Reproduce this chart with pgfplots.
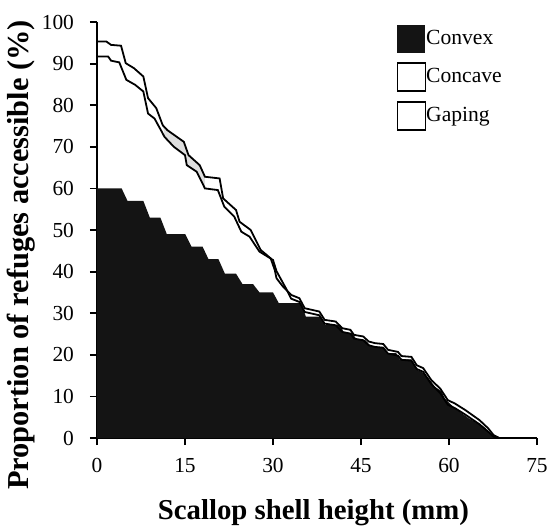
\documentclass[border=0pt]{standalone}
\usepackage{fontspec}
\setmainfont{Liberation Serif}
\usepackage{pgfplots}
\pgfplotsset{compat=1.18}
\usetikzlibrary{calc}

\begin{document}
\begin{tikzpicture}
\begin{axis}[
  name=ax,
  scale only axis,
  width=220pt, height=208pt,
  xmin=0, xmax=75, ymin=0, ymax=100,
  axis x line*=bottom, axis y line*=left,
  axis line style={line width=1pt, black},
  xtick={0,15,30,45,60,75},
  ytick={0,10,...,100},
  tick align=outside,
  major tick length=3.5pt,
  tick style={line width=0.9pt, black},
  tick label style={font=\fontsize{10.7}{12}\selectfont},
  xticklabel style={yshift=-3pt},
  yticklabel style={xshift=-4.5pt},
  /pgf/number format/assume math mode=true,
  xlabel={\textbf{Scallop shell height (mm)}},
  ylabel={\textbf{Proportion of refuges accessible (\%)}},
  xlabel style={font=\fontsize{14.4}{16}\selectfont,
    at={(axis description cs:0.492,-0.197)}, anchor=base},
  ylabel style={font=\fontsize{15.2}{17}\selectfont,
    at={(axis description cs:-0.172,0.44)}, anchor=center},
  legend style={draw=none, fill=none, inner sep=0pt,
    at={(axis description cs:0.68,0.993)}, anchor=north west,
    row sep=4.5pt, nodes={inner sep=0pt},
    font=\fontsize{10.8}{13}\selectfont},
  legend cell align=left,
  /tikz/every even column/.append style={column sep=2.5pt},
  clip=false,
]
% Convex: filled step curve
\addplot[fill=black!92, draw=none,
  legend image code/.code={\fill[black!92] (0pt,-7pt) rectangle (14pt,7pt);}]
  coordinates {
  (0,60) (4.2,60) (5.2,57) (7.9,57) (9.0,53) (10.8,53) (11.9,49) (15.05,49)
  (16.1,46) (18.0,46) (19.0,43) (20.7,43) (21.8,39.5) (23.7,39.5) (24.8,37)
  (26.6,37) (27.7,35) (30.0,35) (31.0,32.4) (34.8,32.4) (35.6,29.2) (38.1,29.2)
  (38.9,27.2) (41.5,27.2) (42.1,25.2) (43.5,25.2) (44.3,23.6) (45.7,23.6)
  (46.8,21.9) (48.8,21.9) (49.6,20.4) (51.0,20.4) (51.6,18.9) (53.6,18.9)
  (54.7,16.3) (55.8,15.5) (57.0,13.5) (57.6,12.3) (58.7,11.3) (59.3,9.5)
  (61.0,7.1) (63.4,4.7) (65.9,2.7) (67.4,0.5) (68.6,0)
  } \closedcycle;
\addlegendentry{Convex}
% shaded band between the two open-shell curves
\addplot[fill=black!13, draw=none, forget plot] coordinates {
  (11.3,74.8) (12.0,74.0) (14.8,71.2) (15.6,68.0) (17.5,65.6) (18.4,62.8)
  (18.4,60.0) (17.0,64.0) (15.3,65.6) (15.0,68.0) (13.1,70.0) (11.5,72.4)
} -- cycle;
% Concave
\addplot[black, line width=0.9pt,
  legend image code/.code={\draw[black, fill=white, line width=0.8pt] (0pt,-7pt) rectangle (14pt,7pt);}]
  coordinates {
  (0,91.7) (1.9,91.7) (2.4,90.7) (3.8,90.3) (5.0,86.1) (6.5,84.9) (7.9,83.3)
  (8.7,78.0) (9.8,76.8) (10.9,74.0) (11.5,72.4) (13.1,70.0) (15.0,68.0)
  (15.3,65.6) (17.0,64.0) (18.4,60.0) (20.6,59.6) (21.7,55.6) (23.4,53.2)
  (24.6,49.6) (26.0,48.4) (27.7,44.8) (30.0,42.8) (30.6,40.1) (32.2,36.0)
  (33.1,33.5) (34.5,32.7) (35.4,30.3) (37.9,29.5) (38.8,27.5) (40.7,27.1)
  (41.8,25.5) (43.2,25.1) (43.8,23.9) (45.4,23.5) (46.3,22.3) (47.4,21.9)
  (48.8,21.7) (49.6,20.3) (51.3,19.8) (51.9,18.8) (53.6,18.6) (54.5,16.6)
  (55.6,15.9) (57.0,12.9) (58.5,10.8) (59.8,8.0) (61.0,7.2) (62.8,5.6)
  (65.2,3.3) (66.7,1.5) (67.6,0.3) (68.6,0) (75,0)
  };
\addlegendentry{Concave}
% Gaping
\addplot[black, line width=0.9pt,
  legend image code/.code={\draw[black, fill=white, line width=0.8pt] (0pt,-7pt) rectangle (14pt,7pt);}]
  coordinates {
  (0,95.3) (1.6,95.3) (2.4,94.5) (4.1,94.3) (4.9,90.1) (6.3,88.9) (7.9,86.9)
  (8.7,81.7) (10.1,79.3) (11.2,75.2) (12.0,74.0) (14.8,71.2) (15.6,68.0)
  (17.5,65.6) (18.4,62.8) (20.9,62.4) (21.5,57.6) (23.7,54.8) (24.3,52.0)
  (26.2,50.0) (27.9,45.2) (29.6,43.2) (30.3,40.4) (30.6,38.4) (31.7,36.4)
  (33.1,34.4) (34.5,33.6) (35.4,31.2) (37.9,30.4) (38.8,28.4) (40.7,28.0)
  (41.8,26.4) (43.2,26.0) (43.8,24.8) (45.4,24.4) (46.3,23.2) (47.4,22.8)
  (48.8,22.6) (49.6,21.2) (51.3,20.7) (51.9,19.7) (53.6,19.5) (54.5,17.5)
  (55.6,16.8) (57.0,13.9) (58.5,11.9) (59.8,9.1) (61.0,8.3) (62.8,6.7)
  (65.2,4.3) (66.7,2.3) (67.6,0.7) (68.6,0) (75,0)
  };
\addlegendentry{Gaping}
\coordinate (O) at (axis cs:0,0);
\end{axis}
\pgfresetboundingbox
\path[use as bounding box] ($(O)+(-48.5pt,-44.5pt)$) rectangle ($(O)+(226pt,219pt)$);
\end{tikzpicture}
\end{document}
